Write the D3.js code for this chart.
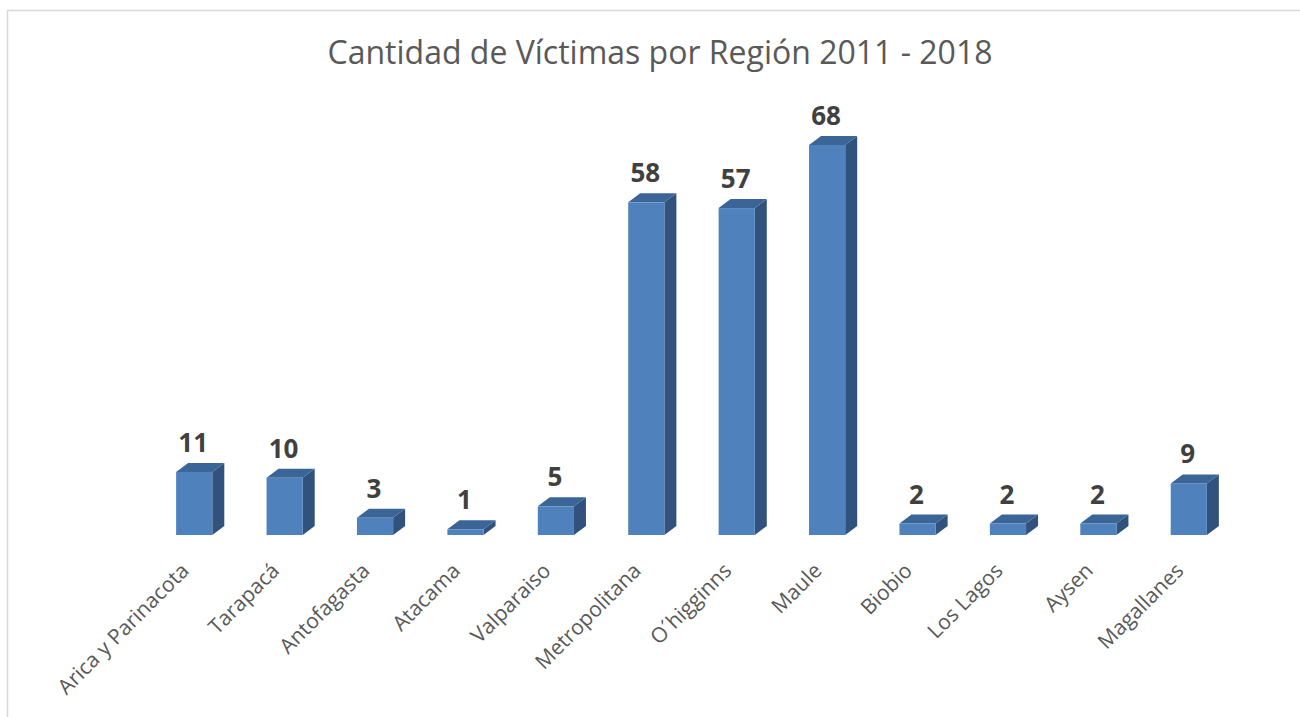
<!DOCTYPE html>
<html>
<head>
<meta charset="utf-8">
<script src="https://cdn.jsdelivr.net/npm/d3@7"></script>
<style>
  body { margin: 0; background: #fff; }
  svg { display: block; }
</style>
</head>
<body>
<svg id="canvas" width="1300" height="717"></svg>
<script>
// data
let regiones = ["Arica y Parinacota", "Tarapacá", "Antofagasta", "Atacama", "Valparaiso",
  "Metropolitana", "O´higginns", "Maule", "Biobio", "Los Lagos", "Aysen", "Magallanes"];
let victimas = [11, 10, 3, 1, 5, 58, 57, 68, 2, 2, 2, 9];
let titulo = "Cantidad de Víctimas por Región 2011 - 2018";

let canvas = d3.select("#canvas");

// chart frame (only top/left edges show in the window)
canvas.append("rect")
  .attr("x", 7.5).attr("y", 10.5)
  .attr("width", 1400).attr("height", 800)
  .attr("fill", "none")
  .attr("stroke", "#d9d9d9")
  .attr("stroke-width", 1.5);

canvas.append("text")
  .attr("x", 660)
  .attr("y", 64)
  .attr("text-anchor", "middle")
  .attr("font-family", "Open Sans")
  .attr("font-size", 32)
  .attr("fill", "#595959")
  .text(titulo);

let x = d3.scaleBand()
  .domain(regiones)
  .range([149, 1234])
  .paddingInner(0.6)
  .paddingOuter(0.3);

let y = d3.scaleLinear()
  .domain([0, 68])
  .range([535, 145]);

let dx = 12, dy = 9;
let bw = x.bandwidth();

let bars = canvas.selectAll("g.bar")
  .data(regiones)
  .enter()
  .append("g")
  .attr("class", "bar");

// side face
bars.append("path")
  .attr("fill", "#30527d")
  .attr("d", (d, i) => {
    let x1 = x(d) + bw, yt = y(victimas[i]), yb = y(0);
    return `M${x1},${yt} L${x1 + dx},${yt - dy} L${x1 + dx},${yb - dy} L${x1},${yb} Z`;
  });

// top face
bars.append("path")
  .attr("fill", "#3b6597")
  .attr("d", (d, i) => {
    let x0 = x(d), yt = y(victimas[i]);
    return `M${x0},${yt} L${x0 + dx},${yt - dy} L${x0 + bw + dx},${yt - dy} L${x0 + bw},${yt} Z`;
  });

// front face
bars.append("rect")
  .attr("fill", "#4f81bd")
  .attr("x", (d) => x(d))
  .attr("y", (d, i) => y(victimas[i]))
  .attr("width", bw)
  .attr("height", (d, i) => y(0) - y(victimas[i]));

// value labels
bars.append("text")
  .attr("x", (d) => x(d) + bw / 2 - 1)
  .attr("y", (d, i) => y(victimas[i]) - dy - 11)
  .attr("text-anchor", "middle")
  .attr("font-family", "Open Sans")
  .attr("font-weight", "bold")
  .attr("font-size", 26)
  .attr("fill", "#404040")
  .text((d, i) => victimas[i]);

// category labels, rotated
canvas.selectAll("text.cat")
  .data(regiones)
  .enter()
  .append("text")
  .attr("class", "cat")
  .attr("transform", (d) => `translate(${x(d) + bw / 2 - 4},${572}) rotate(-45)`)
  .attr("text-anchor", "end")
  .attr("font-family", "Open Sans")
  .attr("font-size", 21)
  .attr("fill", "#595959")
  .text((d) => d);
</script>
</body>
</html>
